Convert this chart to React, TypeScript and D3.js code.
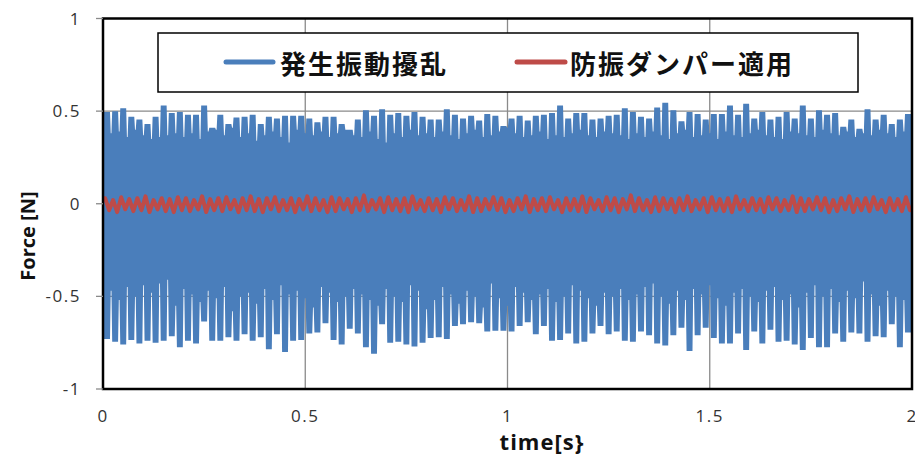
import { useEffect, useRef } from 'react';
import * as d3 from 'd3';

const seriesNames = ['発生振動擾乱', '防振ダンパー適用'];
const forceTicks = [-1, -0.5, 0, 0.5, 1];
const timeTicks = [0, 0.5, 1, 1.5, 2];
const blockStep = 0.02;

const disturbanceTop = [
  0.495, 0.5, 0.515, 0.47, 0.455, 0.43, 0.47, 0.53, 0.49, 0.495,
  0.48, 0.48, 0.53, 0.41, 0.48, 0.43, 0.465, 0.47, 0.48, 0.43,
  0.47, 0.46, 0.475, 0.475, 0.475, 0.46, 0.44, 0.47, 0.47, 0.43,
  0.4, 0.455, 0.505, 0.475, 0.51, 0.48, 0.49, 0.475, 0.495, 0.47,
  0.455, 0.455, 0.51, 0.48, 0.46, 0.475, 0.45, 0.485, 0.475, 0.42,
  0.46, 0.475, 0.45, 0.475, 0.48, 0.49, 0.53, 0.46, 0.49, 0.49,
  0.455, 0.46, 0.475, 0.48, 0.515, 0.495, 0.47, 0.46, 0.52, 0.545,
  0.505, 0.445, 0.495, 0.485, 0.455, 0.485, 0.485, 0.53, 0.48, 0.54,
  0.46, 0.495, 0.455, 0.47, 0.495, 0.46, 0.53, 0.46, 0.505, 0.48,
  0.49, 0.415, 0.455, 0.405, 0.51, 0.455, 0.48, 0.43, 0.455, 0.485,
];

const disturbanceTopDip = [
  0.38, 0.39, 0.36, 0.4, 0.37, 0.35, 0.36, 0.37, 0.38, 0.36, 0.38, 0.35, 0.39, 0.4, 0.37, 0.41, 0.36,
  0.38, 0.34, 0.37, 0.39, 0.36, 0.33, 0.4, 0.38, 0.37, 0.39, 0.36, 0.38, 0.4, 0.37, 0.36, 0.39,
  0.35, 0.33, 0.38, 0.36, 0.4, 0.37, 0.38, 0.36, 0.39, 0.37, 0.35, 0.38, 0.4, 0.36, 0.37, 0.39,
  0.41, 0.38, 0.36, 0.37, 0.39, 0.35, 0.37, 0.36, 0.38, 0.4, 0.37, 0.36, 0.39, 0.38, 0.37, 0.35, 0.38,
  0.36, 0.39, 0.37, 0.35, 0.38, 0.4, 0.36, 0.37, 0.38, 0.35, 0.39, 0.37, 0.36, 0.38, 0.4, 0.37, 0.36,
  0.35, 0.39, 0.38, 0.37, 0.36, 0.4, 0.38, 0.37, 0.39, 0.36, 0.38, 0.37, 0.4, 0.38, 0.36, 0.39,
];

const disturbanceBottom = [
  -0.73, -0.745, -0.76, -0.735, -0.755, -0.74, -0.75, -0.74, -0.715, -0.775,
  -0.74, -0.755, -0.635, -0.74, -0.74, -0.72, -0.74, -0.705, -0.74, -0.72,
  -0.785, -0.705, -0.8, -0.74, -0.735, -0.7, -0.695, -0.645, -0.735, -0.76,
  -0.675, -0.7, -0.775, -0.81, -0.65, -0.75, -0.745, -0.76, -0.77, -0.75,
  -0.725, -0.72, -0.73, -0.66, -0.65, -0.64, -0.645, -0.69, -0.685, -0.685,
  -0.69, -0.66, -0.64, -0.705, -0.66, -0.74, -0.735, -0.7, -0.755, -0.745,
  -0.7, -0.66, -0.705, -0.69, -0.74, -0.745, -0.69, -0.71, -0.755, -0.765,
  -0.71, -0.67, -0.795, -0.71, -0.67, -0.725, -0.755, -0.755, -0.7, -0.79,
  -0.69, -0.755, -0.68, -0.745, -0.74, -0.76, -0.79, -0.725, -0.775, -0.775,
  -0.7, -0.745, -0.695, -0.7, -0.745, -0.715, -0.72, -0.65, -0.775, -0.695,
];

const disturbanceBottomDip = [
  -0.47, -0.52, -0.45, -0.5, -0.44, -0.48, -0.43, -0.41, -0.55, -0.46, -0.49, -0.53, -0.47, -0.51, -0.45, -0.58, -0.5,
  -0.48, -0.54, -0.46, -0.52, -0.44, -0.49, -0.47, -0.51, -0.56, -0.45, -0.48, -0.53, -0.5, -0.46, -0.49, -0.52,
  -0.55, -0.46, -0.5, -0.53, -0.44, -0.47, -0.57, -0.52, -0.45, -0.49, -0.54, -0.47, -0.5, -0.56, -0.43, -0.51,
  -0.55, -0.45, -0.48, -0.52, -0.49, -0.46, -0.53, -0.5, -0.44, -0.47, -0.51, -0.55, -0.48, -0.5, -0.46, -0.52, -0.49,
  -0.45, -0.43, -0.5, -0.54, -0.47, -0.52, -0.46, -0.49, -0.44, -0.51, -0.55, -0.48, -0.46, -0.5, -0.53, -0.47, -0.45,
  -0.52, -0.49, -0.56, -0.48, -0.44, -0.5, -0.46, -0.53, -0.47, -0.51, -0.42, -0.49, -0.55, -0.47, -0.5, -0.52,
];

const damperHigh = [
  0.03, 0.02, 0.035, 0.025, 0.03, 0.04, 0.02, 0.03, 0.025, 0.035,
  0.03, 0.02, 0.04, 0.025, 0.03, 0.035, 0.02, 0.03, 0.04, 0.025,
  0.03, 0.035, 0.02, 0.03, 0.025, 0.04, 0.03, 0.02, 0.035, 0.03,
  0.025, 0.03, 0.045, 0.02, 0.03, 0.035, 0.025, 0.03, 0.04, 0.02,
  0.03, 0.025, 0.035, 0.03, 0.02, 0.04, 0.03, 0.025, 0.035, 0.03,
  0.02, 0.03, 0.04, 0.025, 0.03, 0.035, 0.02, 0.03, 0.025, 0.04,
  0.03, 0.02, 0.035, 0.03, 0.025, 0.045, 0.03, 0.02, 0.035, 0.03,
  0.025, 0.03, 0.04, 0.02, 0.03, 0.035, 0.025, 0.03, 0.04, 0.02,
  0.03, 0.025, 0.035, 0.03, 0.02, 0.04, 0.03, 0.025, 0.035, 0.03,
  0.02, 0.03, 0.04, 0.025, 0.03, 0.035, 0.02, 0.03, 0.025, 0.035,
];

const damperLow = [
  -0.035, -0.045, -0.03, -0.04, -0.035, -0.045, -0.03, -0.04, -0.045, -0.035,
  -0.04, -0.03, -0.045, -0.035, -0.04, -0.03, -0.045, -0.035, -0.04, -0.045,
  -0.03, -0.04, -0.035, -0.045, -0.03, -0.04, -0.035, -0.045, -0.04, -0.03,
  -0.045, -0.035, -0.04, -0.03, -0.045, -0.035, -0.04, -0.045, -0.03, -0.04,
  -0.035, -0.045, -0.03, -0.04, -0.035, -0.045, -0.04, -0.03, -0.035, -0.045,
  -0.04, -0.03, -0.045, -0.035, -0.04, -0.03, -0.045, -0.035, -0.04, -0.045,
  -0.03, -0.04, -0.035, -0.045, -0.03, -0.04, -0.035, -0.045, -0.04, -0.03,
  -0.045, -0.035, -0.04, -0.03, -0.045, -0.035, -0.04, -0.045, -0.03, -0.04,
  -0.035, -0.045, -0.03, -0.04, -0.035, -0.045, -0.04, -0.03, -0.035, -0.045,
  -0.04, -0.03, -0.045, -0.035, -0.04, -0.03, -0.045, -0.035, -0.04, -0.035,
];

const BLUE = '#4A7EBB';
const RED = '#BE4B48';

export default function App() {
  const svgRef = useRef<SVGSVGElement>(null);

  useEffect(() => {
    const width = 915;
    const height = 457;
    const margin = { top: 18.5, right: 3, bottom: 68, left: 103 };

    const svg = d3.select(svgRef.current);
    svg.selectAll('*').remove();

    const x = d3.scaleLinear()
      .domain([timeTicks[0], timeTicks[timeTicks.length - 1]])
      .range([margin.left, width - margin.right]);
    const y = d3.scaleLinear()
      .domain([forceTicks[0], forceTicks[forceTicks.length - 1]])
      .range([height - margin.bottom, margin.top]);

    // gridlines
    svg.append('g')
      .selectAll('line')
      .data(timeTicks.slice(1, -1))
      .join('line')
      .attr('x1', (d) => x(d)).attr('x2', (d) => x(d))
      .attr('y1', y(1)).attr('y2', y(-1))
      .attr('stroke', '#8a8a8a').attr('stroke-width', 1.3);
    svg.append('g')
      .selectAll('line')
      .data(forceTicks.slice(1, -1))
      .join('line')
      .attr('x1', x(0)).attr('x2', x(2))
      .attr('y1', (d) => y(d)).attr('y2', (d) => y(d))
      .attr('stroke', '#8a8a8a').attr('stroke-width', 1.3);

    // disturbance: filled between upper and lower envelope, with narrow notches between blocks
    const pxToT = (p: number) => x.invert(x(0) + p) - x.invert(x(0));
    const a = pxToT(1.1);
    const b = pxToT(0.35);
    const n = disturbanceTop.length;
    const pts: { t: number; hi: number; lo: number }[] = [];
    for (let i = 0; i < n; i++) {
      const t0 = i * blockStep;
      const t1 = (i + 1) * blockStep;
      pts.push({ t: i === 0 ? t0 : t0 + a, hi: disturbanceTop[i], lo: disturbanceBottom[i] });
      pts.push({ t: i === n - 1 ? t1 : t1 - a, hi: disturbanceTop[i], lo: disturbanceBottom[i] });
      if (i < n - 1) {
        const hi = Math.min(disturbanceTopDip[i] ?? 0.38, disturbanceTop[i], disturbanceTop[i + 1]);
        const lo = Math.max(disturbanceBottomDip[i] ?? -0.5, disturbanceBottom[i], disturbanceBottom[i + 1]);
        pts.push({ t: t1 - b, hi, lo });
        pts.push({ t: t1 + b, hi, lo });
      }
    }
    const area = d3.area<{ t: number; hi: number; lo: number }>()
      .x((d) => x(d.t))
      .y0((d) => y(d.lo))
      .y1((d) => y(d.hi));
    svg.append('path').attr('d', area(pts)).attr('fill', BLUE);

    // damper: zigzag line between block highs and lows
    const redPts: [number, number][] = [];
    damperHigh.forEach((v, i) => {
      redPts.push([i * blockStep + blockStep * 0.25, v]);
      redPts.push([i * blockStep + blockStep * 0.75, damperLow[i]]);
    });
    const line = d3.line<[number, number]>().x((d) => x(d[0])).y((d) => y(d[1]));
    svg.append('path')
      .attr('d', line(redPts))
      .attr('fill', 'none')
      .attr('stroke', RED)
      .attr('stroke-width', 4)
      .attr('stroke-linejoin', 'round')
      .attr('stroke-linecap', 'round');

    // plot border
    svg.append('rect')
      .attr('x', x(0)).attr('y', y(1))
      .attr('width', x(2) - x(0)).attr('height', y(-1) - y(1))
      .attr('fill', 'none').attr('stroke', '#000').attr('stroke-width', 2.5);

    // y ticks + labels
    const yAxis = svg.append('g');
    yAxis.selectAll('line')
      .data(forceTicks)
      .join('line')
      .attr('x1', x(0) - 7).attr('x2', x(0))
      .attr('y1', (d) => y(d)).attr('y2', (d) => y(d))
      .attr('stroke', '#8a8a8a').attr('stroke-width', 1.3);
    yAxis.selectAll('text')
      .data(forceTicks)
      .join('text')
      .attr('x', 81)
      .attr('y', (d) => y(d))
      .attr('dy', '0.36em')
      .attr('text-anchor', 'end')
      .style('font-family', "'Open Sans', sans-serif")
      .style('font-size', '17px')
      .style('letter-spacing', '1.5px')
      .attr('fill', '#333')
      .text((d) => String(d));

    svg.append('g')
      .selectAll('text')
      .data(timeTicks)
      .join('text')
      .attr('x', (d) => x(d))
      .attr('y', 422)
      .attr('text-anchor', 'middle')
      .style('font-family', "'Open Sans', sans-serif")
      .style('font-size', '17px')
      .style('letter-spacing', '1.5px')
      .attr('fill', '#333')
      .text((d) => String(d));

    // axis titles
    svg.append('text')
      .attr('transform', `translate(27,236) rotate(-90)`)
      .attr('text-anchor', 'middle')
      .attr('dominant-baseline', 'central')
      .style('font-family', "'Open Sans', sans-serif")
      .style('font-size', '20px')
      .style('font-weight', 'bold')
      .attr('fill', '#111')
      .text('Force [N]');
    svg.append('text')
      .attr('x', 542)
      .attr('y', 450)
      .attr('text-anchor', 'middle')
      .style('font-family', "'Open Sans', sans-serif")
      .style('font-size', '22px')
      .style('font-weight', 'bold')
      .style('letter-spacing', '1px')
      .attr('fill', '#111')
      .text('time[s}');

    // legend
    const legend = svg.append('g');
    legend.append('rect')
      .attr('x', 158).attr('y', 33).attr('width', 700).attr('height', 59)
      .attr('fill', '#fff').attr('stroke', '#000').attr('stroke-width', 1.5);
    const entries = [
      { name: seriesNames[0], color: BLUE, x0: 226, x1: 273, tx: 280 },
      { name: seriesNames[1], color: RED, x0: 517, x1: 565, tx: 570 },
    ];
    entries.forEach((e) => {
      legend.append('line')
        .attr('x1', e.x0).attr('x2', e.x1).attr('y1', 62).attr('y2', 62)
        .attr('stroke', e.color).attr('stroke-width', 5).attr('stroke-linecap', 'round');
      legend.append('text')
        .attr('x', e.tx).attr('y', 62)
        .attr('dominant-baseline', 'central')
        .style('font-family', "'Noto Sans CJK JP', sans-serif")
        .style('font-size', '26px')
        .style('font-weight', 'bold')
        .style('letter-spacing', '2px')
        .attr('fill', '#111')
        .text(e.name);
    });
  }, []);

  return (
    <svg
      ref={svgRef}
      width={915}
      height={457}
      style={{ position: 'absolute', left: 0, top: 0, background: '#fff' }}
    />
  );
}
